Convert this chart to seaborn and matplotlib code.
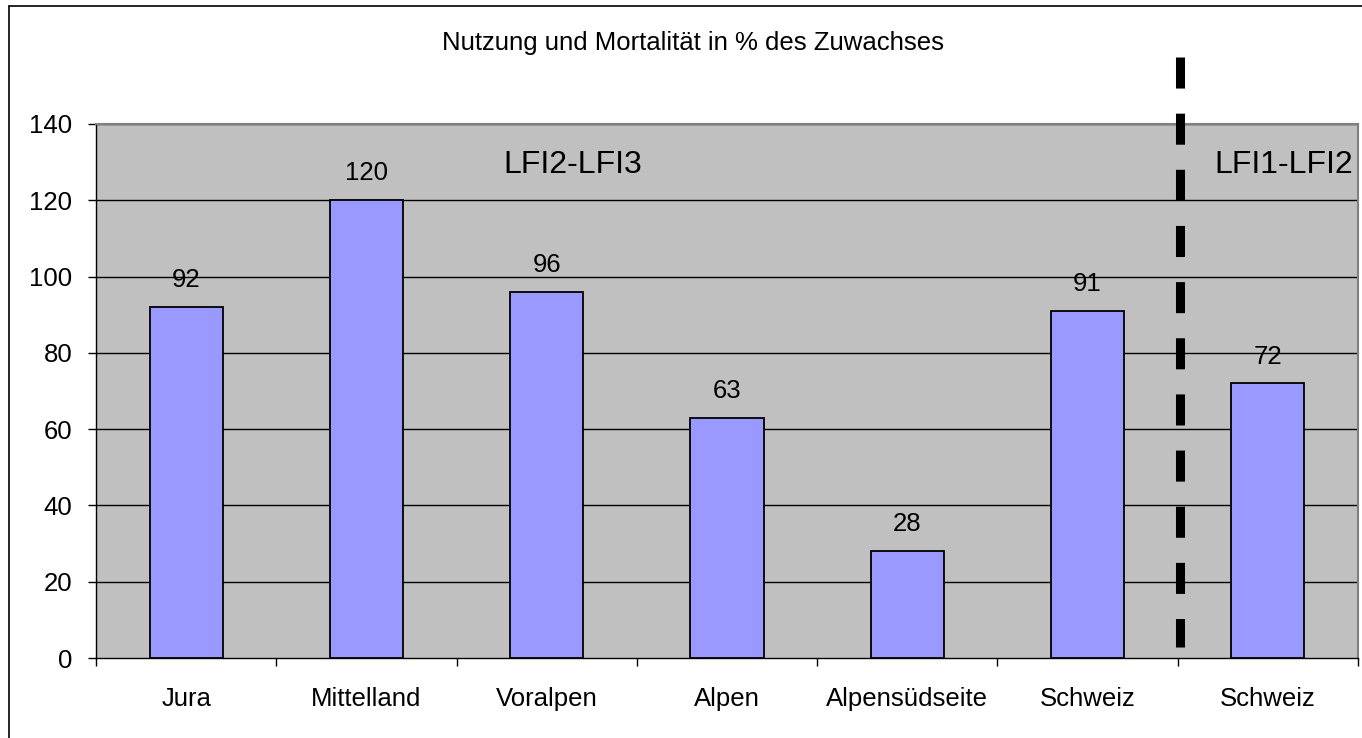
import matplotlib
matplotlib.use("Agg")
import matplotlib.pyplot as plt
import seaborn as sns
import pandas as pd
from matplotlib.lines import Line2D
from matplotlib.ticker import FixedLocator, NullFormatter

categories = ["Jura", "Mittelland", "Voralpen", "Alpen", "Alpensüdseite", "Schweiz", "Schweiz"]
keys = ["Jura", "Mittelland", "Voralpen", "Alpen", "Alpensüdseite", "Schweiz (LFI2-LFI3)", "Schweiz (LFI1-LFI2)"]
values = [92, 120, 96, 63, 28, 91, 72]
title = "Nutzung und Mortalität in % des Zuwachses"
period_labels = ["LFI2-LFI3", "LFI1-LFI2"]

sns.set_theme(style="white")
plt.rcParams['font.family'] = ['Liberation Sans', 'DejaVu Sans']
plt.rcParams['text.color'] = 'black'

df = pd.DataFrame({"key": keys, "value": values})

FS = 18.5
fig = plt.figure(figsize=(13.62, 7.38), dpi=100)
W, H = 1362, 738
ax = fig.add_axes([96 / W, 1 - 658 / H, (1358 - 96) / W, (658 - 124) / H])
ax.set_facecolor("#C0C0C0")

sns.barplot(data=df, x="key", y="value", order=keys, color="#9999FF",
            edgecolor="black", linewidth=1.3, width=0.405, saturation=1,
            ax=ax, zorder=3)

ax.set_xlim(-0.5, len(keys) - 0.5)
ax.set_ylim(0, 140)
ax.set_yticks(range(0, 141, 20))
ax.set_yticklabels([str(v) for v in range(0, 141, 20)], fontsize=FS, color="black")
ax.set_xticks(range(len(keys)))
ax.set_xticklabels(categories, fontsize=FS, color="black")
ax.xaxis.set_minor_locator(FixedLocator([i - 0.5 for i in range(len(keys) + 1)]))
ax.xaxis.set_minor_formatter(NullFormatter())
ax.tick_params(axis="x", which="major", length=0, pad=21)
ax.tick_params(axis="x", which="minor", length=6, width=1, color="black", direction="out", bottom=True)
ax.tick_params(axis="y", length=6, width=1, color="black", direction="out", left=True, pad=11)
ax.set_xlabel("")
ax.set_ylabel("")

for v in range(20, 141, 20):
    ax.axhline(v, color="black", linewidth=1, zorder=1)

for s in ["left", "bottom"]:
    ax.spines[s].set_color("black")
    ax.spines[s].set_linewidth(1)
for s in ["top", "right"]:
    ax.spines[s].set_color("#808080")
    ax.spines[s].set_linewidth(1.5)

for i, v in enumerate(values):
    ax.text(i, v + 5.2, str(v), ha="center", va="baseline", fontsize=FS, color="black", zorder=4)

ax.text(2.144, 127.2, period_labels[0], ha="center", va="baseline", fontsize=23)
ax.text(6.472, 127.2, period_labels[1], ha="right", va="baseline", fontsize=23)

ax.plot([5.514, 5.514], [157.6, 2.9], color="black", linewidth=6.5,
        linestyle=(0, (3.44, 2.78)), solid_capstyle="butt", dash_capstyle="butt",
        clip_on=False, zorder=5)

fig.text(693 / W, 1 - 50 / H, title, ha="center", va="baseline", fontsize=FS)

fig.add_artist(Line2D([9 / W, 9 / W], [0, 1 - 6 / H], transform=fig.transFigure,
                      color="black", linewidth=1.2))
fig.add_artist(Line2D([9 / W, 1], [1 - 6 / H, 1 - 6 / H], transform=fig.transFigure,
                      color="black", linewidth=1.2))

fig.savefig("out.png", dpi=100, facecolor="white")
